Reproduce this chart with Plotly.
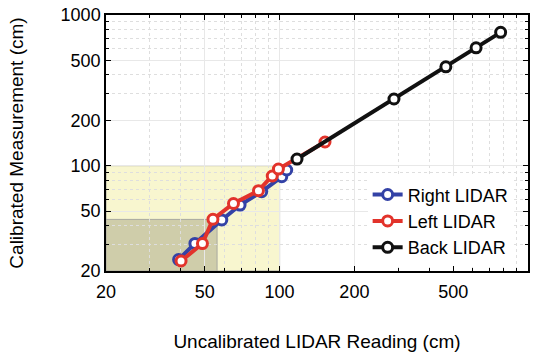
import numpy as np
import plotly.graph_objects as go

# Data (cm)
right_x = [39.2, 45.6, 58.5, 69.3, 84.7, 102, 106.8]
right_y = [23.8, 30.5, 43.6, 54.8, 67.2, 84.5, 93.6]
left_x = [40.1, 48.9, 53.9, 65.2, 82.2, 93.4, 98.9, 152.3]
left_y = [23.3, 30.4, 44.1, 56.1, 68.2, 85.4, 95.0, 143.6]
back_x = [117.5, 288.7, 467, 618, 776]
back_y = [110.7, 277, 453, 606, 767]

yellow_box = [20, 100, 20, 100]   # x0, x1, y0, y1
olive_box = [20, 56, 20, 44]

major_ticks = [20, 50, 100, 200, 500, 1000]
minor_ticks = [30, 40, 60, 70, 80, 90, 300, 400, 600, 700, 800, 900]

fig = go.Figure()

def add_series(x, y, color, name):
    fig.add_trace(go.Scatter(
        x=x, y=y, mode="lines+markers", name=name,
        line=dict(color=color, width=4),
        marker=dict(symbol="circle", size=10, color="white",
                    line=dict(color=color, width=3)),
    ))

add_series(right_x, right_y, "#3342a6", "Right LIDAR")
add_series(left_x, left_y, "#e2332b", "Left LIDAR")
add_series(back_x, back_y, "#111111", "Back LIDAR")

for box, fill in [(yellow_box, "#f8f6cf"), (olive_box, "#cfcdaa")]:
    fig.add_shape(type="rect", xref="x", yref="y", layer="below",
                  x0=box[0], x1=box[1], y0=box[2], y1=box[3],
                  fillcolor=fill, line=dict(color="#a8a8a0", width=1))

axis_common = dict(
    type="log", tickmode="array", tickvals=major_ticks,
    ticktext=[str(v) for v in major_ticks],
    ticks="inside", ticklen=5, tickwidth=1, tickcolor="black",
    showline=True, linecolor="black", linewidth=1.5, mirror="ticks",
    showgrid=True, gridcolor="#e8e8e8", gridwidth=1,
    tickfont=dict(family="Liberation Sans, Arial", size=18, color="black"),
    minor=dict(tickmode="array", tickvals=minor_ticks, ticks="inside",
               ticklen=3, tickcolor="black", showgrid=True,
               gridcolor="#dedede", griddash="dot", gridwidth=1),
    range=[np.log10(20), 3],
    automargin=False,
)

fig.update_xaxes(**axis_common, ticklabelstandoff=4,
                 title=dict(text="Uncalibrated LIDAR Reading (cm)", standoff=36,
                            font=dict(family="Liberation Sans, Arial", size=19, color="black")))
fig.update_yaxes(**axis_common,
                 title=dict(text="Calibrated Measurement (cm)", standoff=32,
                            font=dict(family="Liberation Sans, Arial", size=19, color="black")))

fig.update_layout(
    width=546, height=352,
    margin=dict(l=106, r=18, t=15, b=81),
    plot_bgcolor="white", paper_bgcolor="white",
    legend=dict(x=0.62, y=0.37, xanchor="left", yanchor="top",
                bgcolor="white", borderwidth=0,
                font=dict(family="Liberation Sans, Arial", size=18, color="black"),
                tracegroupgap=0, itemwidth=30),
    showlegend=True,
)

fig.write_html("out.html")
